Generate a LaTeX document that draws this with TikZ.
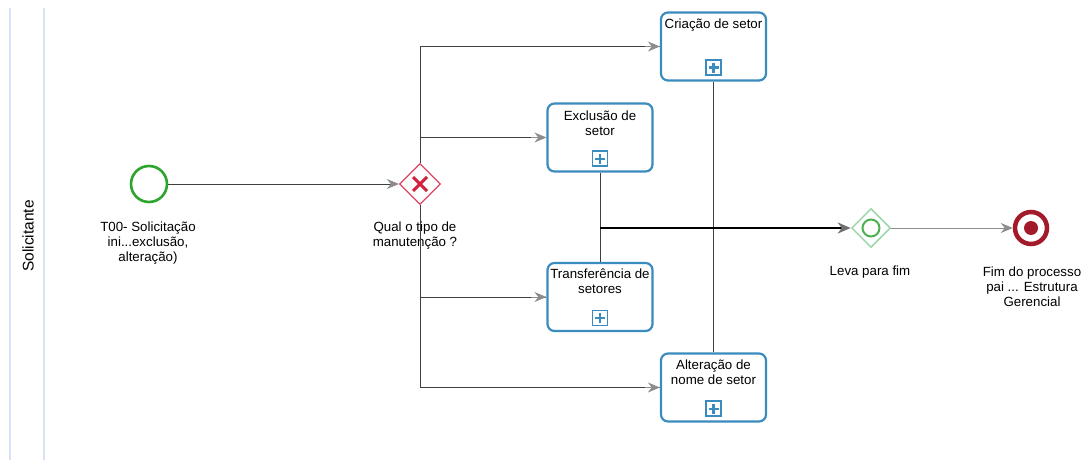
\documentclass[tikz,border=0pt]{standalone}
\usepackage{fontspec}
\setmainfont{Liberation Sans}
\usetikzlibrary{arrows.meta,shapes.geometric}
\definecolor{taskblue}{HTML}{3A8BBE}
\definecolor{lanecol}{HTML}{D6E3F5}
\definecolor{startgreen}{HTML}{2DA52D}
\definecolor{gwred}{HTML}{D9475E}
\definecolor{xred}{HTML}{D2203F}
\definecolor{gwgreen}{HTML}{9ED6A8}
\definecolor{ringgreen}{HTML}{4CB050}
\definecolor{endred}{HTML}{A31A2B}
\definecolor{flowgray}{HTML}{8C8C8C}
\tikzset{
  task/.style={draw=taskblue, line width=2.2pt, rounded corners=7pt, minimum width=105pt, minimum height=68pt, fill=white, inner sep=0pt},
  tasktext/.style={anchor=north, align=center, inner sep=0pt},
  marker/.style={draw=taskblue, line width=1.4pt, minimum size=15pt, inner sep=0pt, fill=white,
    path picture={\draw[taskblue,line width=2.2pt]
      ([xshift=-5pt]path picture bounding box.center) -- ([xshift=5pt]path picture bounding box.center)
      ([yshift=-5pt]path picture bounding box.center) -- ([yshift=5pt]path picture bounding box.center);}},
  xgate/.style={shape=diamond, draw=gwred, line width=1.3pt, minimum size=41pt, inner sep=0pt, fill=white,
    path picture={\draw[xred,line width=3pt]
      ([xshift=-7pt,yshift=-7pt]path picture bounding box.center) -- ([xshift=7pt,yshift=7pt]path picture bounding box.center)
      ([xshift=-7pt,yshift=7pt]path picture bounding box.center) -- ([xshift=7pt,yshift=-7pt]path picture bounding box.center);}},
  ogate/.style={shape=diamond, draw=gwgreen, line width=1.5pt, minimum size=39pt, inner sep=0pt, fill=white,
    path picture={\draw[ringgreen,line width=2pt] (path picture bounding box.center) circle[radius=8.5pt];}},
  startev/.style={circle, draw=startgreen, line width=2.6pt, minimum size=36pt, inner sep=0pt, fill=white},
  endev/.style={circle, draw=endred, line width=4.5pt, minimum size=32pt, inner sep=0pt, fill=white,
    path picture={\fill[endred] (path picture bounding box.center) circle[radius=7pt];}},
  lbl/.style={anchor=north, align=center, inner sep=0pt},
  flow/.style={draw=black!75, line width=0.8pt},
  arr/.style={-{Stealth[length=12pt,width=10pt,inset=4pt,color=flowgray]}},
  branch/.style={draw=flowgray, line width=1pt},
  lane/.style={draw=lanecol, line width=1.2pt}
}
\begin{document}
\begin{tikzpicture}[x=1pt,y=-1pt, font=\fontsize{13.3}{15}\selectfont]
\useasboundingbox (0,0) rectangle (1087,460);
% pool / lane
\coordinate (p1) at (10,8);
\coordinate (p2) at (10,460);
\coordinate (l1) at (44,8);
\coordinate (l2) at (44,460);
\draw[lane] (p1) -- (p2);
\draw[lane] (l1) -- (l2);
\node[rotate=90, font=\fontsize{15.5}{18}\selectfont] (lanename) at (28,236) {Solicitante};

% events and gateways
\node[startev] (start) at (149,184) {};
\node[lbl] (startl) at (148,222) {T00- Solicitação\\ini...exclusão,\\alteração)};
\node[xgate] (gw1) at (420,184) {};
\node[lbl] (gw1l) at (415,222) {Qual o tipo de\\manutenção ?};
\node[ogate] (gw2) at (871,228) {};
\node[lbl] (gw2l) at (870,266) {Leva para fim};
\node[endev] (end) at (1031,228) {};
\node[lbl] (endl) at (1032,267) {Fim do processo\\pai ... Estrutura\\Gerencial};

% tasks
\node[task] (crea) at (713.5,46.5) {};
\node[tasktext] (creat) at ([yshift=-7pt]crea.north) {Criação de setor};
\node[marker] (cream) at ([yshift=14pt]crea.south) {};

\node[task] (exc) at (600,137.5) {};
\node[tasktext] (exct) at ([yshift=-8pt]exc.north) {Exclusão de\\setor};
\node[marker] (excm) at ([yshift=14pt]exc.south) {};

\node[task] (trans) at (600,297) {};
\node[tasktext] (transt) at ([yshift=-7pt]trans.north) {Transferência de\\setores};
\node[marker] (transm) at ([yshift=14pt]trans.south) {};

\node[task] (alt) at (713.5,387.5) {};
\node[tasktext] (altt) at ([yshift=-7pt]alt.north) {Alteração de\\nome de setor};
\node[marker] (altm) at ([yshift=14pt]alt.south) {};

% flows
\draw[flow,arr] (start.east) -- (gw1.west);
\draw[flow] (gw1.north) |- (crea.west);
\draw[flow] (gw1.north) |- (exc.west);
\draw[flow] (gw1.south) |- (trans.west);
\draw[flow] (gw1.south) |- (alt.west);
\draw[branch,arr] ([xshift=-15pt]crea.west) -- (crea.west);
\draw[branch,arr] ([xshift=-15pt]exc.west) -- (exc.west);
\draw[branch,arr] ([xshift=-15pt]trans.west) -- (trans.west);
\draw[branch,arr] ([xshift=-15pt]alt.west) -- (alt.west);

\coordinate (m1) at (exc.south |- gw2.west);
\draw[flow] (exc.south) -- (m1);
\draw[flow] (trans.north) -- (m1);
\draw[flow] (crea.south) -- (crea.south |- gw2.west);
\draw[flow] (alt.north) -- (alt.north |- gw2.west);
\draw[draw=black, line width=2.6pt, -{Stealth[length=13pt,width=11pt,inset=4pt,color=flowgray!80!black]}] (m1) -- (gw2.west);
\draw[branch,arr] (gw2.east) -- (end.west);
\end{tikzpicture}
\end{document}
